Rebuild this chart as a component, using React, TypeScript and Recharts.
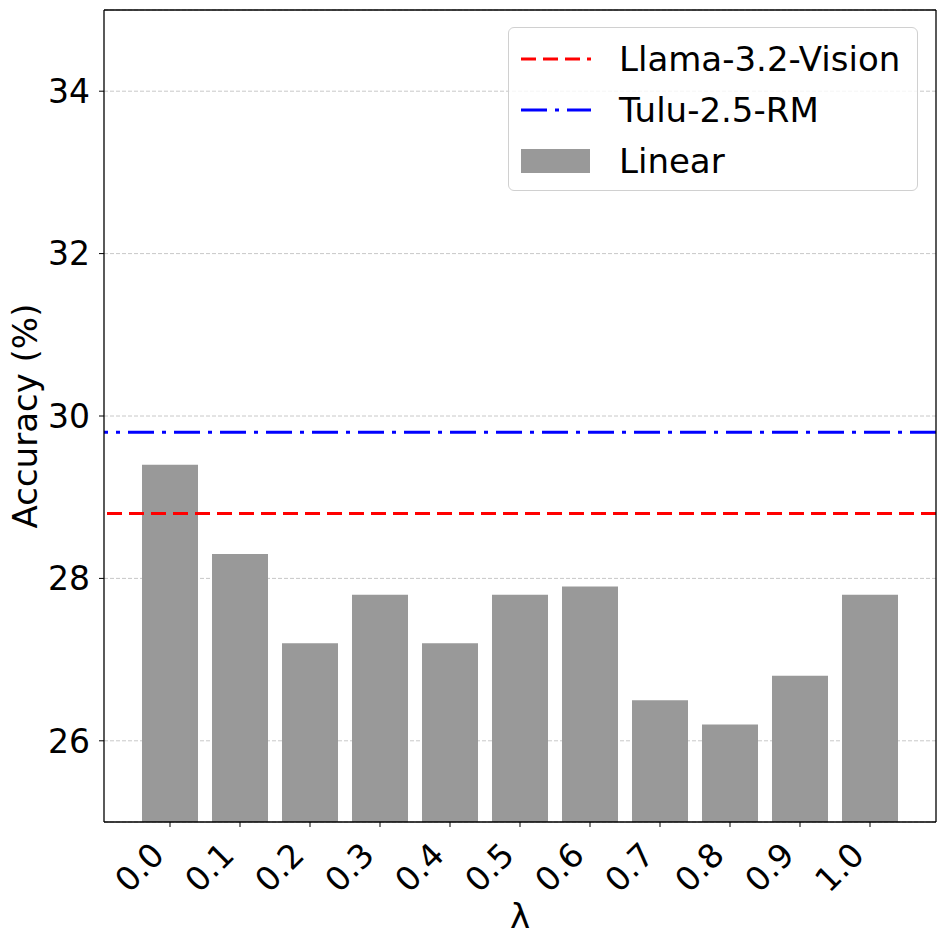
import { BarChart, Bar, XAxis, YAxis, CartesianGrid, ReferenceLine } from "recharts"

const lambdas = ["0.0", "0.1", "0.2", "0.3", "0.4", "0.5", "0.6", "0.7", "0.8", "0.9", "1.0"]
const linearAcc = [29.4, 28.3, 27.2, 27.8, 27.2, 27.8, 27.9, 26.5, 26.2, 26.8, 27.8]
const llamaAcc = 28.8
const tuluAcc = 29.8
const yTicks = [26, 28, 30, 32, 34]

const FONT = "DejaVu Sans"

const data = lambdas.map((l, i) => ({ lambda: l, linear: linearAcc[i] }))

function XTick(props: any) {
  const { x, y, payload } = props
  return (
    <text
      x={x - 4}
      y={y + 28}
      transform={`rotate(-45, ${x - 4}, ${y + 28})`}
      textAnchor="end"
      fontFamily={FONT}
      fontSize={33}
      fill="#000"
    >
      {payload.value}
    </text>
  )
}

function LegendBox() {
  const rows = [
    { label: "Llama-3.2-Vision", kind: "dash" },
    { label: "Tulu-2.5-RM", kind: "dashdot" },
    { label: "Linear", kind: "bar" },
  ]
  return (
    <div
      style={{
        position: "absolute",
        left: 508,
        top: 27,
        width: 410,
        height: 164,
        border: "1px solid #d0d0d0",
        borderRadius: 6,
        background: "rgba(255,255,255,0.8)",
        boxSizing: "border-box",
        fontFamily: FONT,
        fontSize: 34,
        paddingTop: 5,
      }}
    >
      {rows.map((r) => (
        <div key={r.label} style={{ display: "flex", alignItems: "center", height: 51 }}>
          <svg width={110} height={30} style={{ marginLeft: 12 }}>
            {r.kind === "dash" && (
              <line x1={0} y1={15} x2={70} y2={15} stroke="#ff0000" strokeWidth={3} strokeDasharray="15 7" />
            )}
            {r.kind === "dashdot" && (
              <line x1={0} y1={15} x2={70} y2={15} stroke="#0000ff" strokeWidth={3} strokeDasharray="26 8 4 8" />
            )}
            {r.kind === "bar" && <rect x={0} y={3} width={69} height={24} fill="#999999" />}
          </svg>
          <span style={{ marginLeft: -12, lineHeight: 1 }}>{r.label}</span>
        </div>
      ))}
    </div>
  )
}

export default function App() {
  return (
    <div style={{ position: "absolute", left: 0, top: 0, width: 945, height: 945, background: "#fff" }}>
      <BarChart
        width={945}
        height={945}
        data={data}
        margin={{ top: 9, right: 8, left: 0, bottom: 0 }}
        barCategoryGap="10%"
      >
        <CartesianGrid vertical={false} stroke="#c8c8c8" strokeDasharray="4 2" />
        <XAxis
          dataKey="lambda"
          height={123}
          padding={{ left: 31, right: 31 }}
          tick={<XTick />}
          tickSize={5}
          tickLine={{ stroke: "#000" }}
          axisLine={{ stroke: "#000", strokeWidth: 1.3 }}
          interval={0}
          label={{
            content: (p: any) => (
              <text
                x={p.viewBox.x + p.viewBox.width / 2}
                y={928}
                textAnchor="middle"
                fontFamily={FONT}
                fontSize={34}
                fill="#000"
              >
                λ
              </text>
            ),
          }}
        />
        <XAxis
          xAxisId="top"
          dataKey="lambda"
          orientation="top"
          height={1}
          padding={{ left: 31, right: 31 }}
          tick={false}
          tickLine={false}
          axisLine={{ stroke: "#000", strokeWidth: 1.3 }}
        />
        <YAxis
          width={104}
          domain={[25, 35]}
          ticks={yTicks}
          allowDataOverflow
          tickSize={5}
          tickMargin={9}
          tickLine={{ stroke: "#000" }}
          axisLine={{ stroke: "#000", strokeWidth: 1.3 }}
          tick={{ fontFamily: FONT, fontSize: 33, fill: "#000" }}
          label={{
            content: (p: any) => {
              const cx = 37
              const cy = p.viewBox.y + p.viewBox.height / 2
              return (
                <text
                  x={cx}
                  y={cy}
                  transform={`rotate(-90, ${cx}, ${cy})`}
                  textAnchor="middle"
                  fontFamily={FONT}
                  fontSize={34}
                  fill="#000"
                >
                  Accuracy (%)
                </text>
              )
            },
          }}
        />
        <YAxis
          yAxisId="right"
          orientation="right"
          width={1}
          domain={[25, 35]}
          allowDataOverflow
          tick={false}
          tickLine={false}
          axisLine={{ stroke: "#000", strokeWidth: 1.3 }}
        />
        <Bar dataKey="linear" fill="#999999" isAnimationActive={false} />
        <ReferenceLine xAxisId="top" yAxisId="right" y={llamaAcc} stroke="#ff0000" strokeWidth={3} strokeDasharray="15 7" />
        <ReferenceLine xAxisId="top" yAxisId="right" y={tuluAcc} stroke="#0000ff" strokeWidth={3} strokeDasharray="26 8 4 8" />
      </BarChart>
      <LegendBox />
    </div>
  )
}
